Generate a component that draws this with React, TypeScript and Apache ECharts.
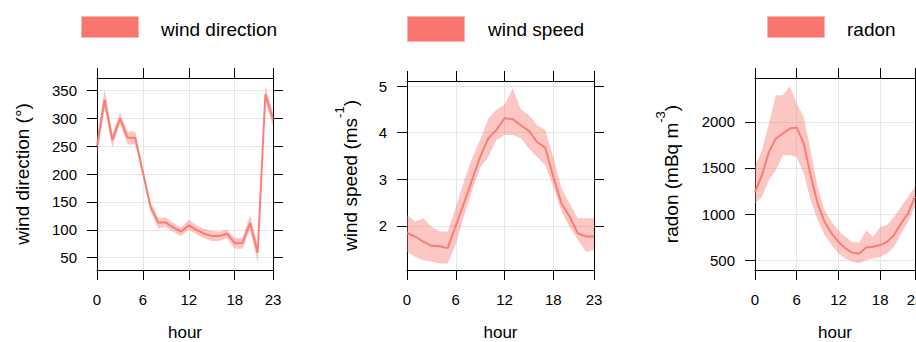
import React, { useEffect, useRef } from "react";
import * as echarts from "echarts";

const hours = ["0","1","2","3","4","5","6","7","8","9","10","11","12","13","14","15","16","17","18","19","20","21","22","23"];
const xTickLabels = ["0", "6", "12", "18", "23"];

const windDirMean = [250, 333, 261, 299, 265, 265, 203, 141, 113, 113, 104, 97, 108, 100, 93, 89, 89, 93, 76, 76, 112, 59, 343, 298];
const windDirLower = [233, 318, 248, 290, 253, 253, 195, 133, 103, 105, 96, 89, 100, 92, 85, 80, 80, 85, 66, 66, 100, 42, 330, 285];
const windDirUpper = [266, 352, 272, 310, 276, 276, 210, 150, 122, 122, 112, 104, 118, 108, 102, 98, 97, 100, 85, 86, 126, 72, 358, 310];
const windDirTicks = [50, 100, 150, 200, 250, 300, 350];

const windSpeedMean = [1.84, 1.77, 1.66, 1.57, 1.56, 1.52, 2.0, 2.48, 2.98, 3.48, 3.88, 4.06, 4.31, 4.29, 4.16, 4.04, 3.8, 3.68, 3.05, 2.48, 2.2, 1.84, 1.77, 1.77];
const windSpeedLower = [1.44, 1.33, 1.26, 1.23, 1.19, 1.19, 1.6, 2.2, 2.75, 3.25, 3.48, 3.84, 3.95, 3.95, 3.88, 3.66, 3.48, 3.3, 2.84, 2.3, 1.98, 1.7, 1.44, 1.48];
const windSpeedUpper = [2.23, 2.09, 2.16, 1.98, 1.88, 1.87, 2.4, 2.95, 3.45, 3.85, 4.3, 4.5, 4.6, 4.95, 4.5, 4.38, 4.16, 4.06, 3.48, 2.8, 2.48, 2.16, 2.16, 2.16];
const windSpeedTicks = [2, 3, 4, 5];

const radonMean = [1241, 1422, 1675, 1820, 1874, 1928, 1939, 1766, 1422, 1115, 915, 789, 698, 627, 579, 572, 637, 644, 663, 698, 771, 898, 1006, 1187];
const radonLower = [1115, 1187, 1368, 1476, 1639, 1639, 1620, 1440, 1151, 934, 771, 663, 572, 518, 482, 464, 500, 518, 536, 572, 644, 789, 915, 1078];
const radonUpper = [1512, 1693, 1983, 2290, 2290, 2387, 2200, 2054, 1693, 1295, 1042, 915, 820, 753, 692, 692, 820, 753, 861, 880, 970, 1078, 1187, 1295];
const radonTicks = [500, 1000, 1500, 2000];

const legendNames = ["wind direction", "wind speed", "radon"];

const FONT = "'Liberation Sans', Arial, Helvetica, sans-serif";
const RED = "#F8766D";
const GRIDLINE = "#e6e6e6";

type Panel = {
  name: string;
  mean: number[];
  lower: number[];
  upper: number[];
  ticks: number[];
  min: number;
  max: number;
  yName: string;
  nameGap: number;
  grid: { left: number; top: number; width: number; height: number };
  legend: { x: number; w: number; h: number; tx: number };
};

const panels: Panel[] = [
  {
    name: legendNames[0], mean: windDirMean, lower: windDirLower, upper: windDirUpper, ticks: windDirTicks,
    min: 28, max: 372, yName: "wind direction (°)", nameGap: 65,
    grid: { left: 97, top: 78, width: 176, height: 192 },
    legend: { x: 81, w: 57, h: 21, tx: 161 },
  },
  {
    name: legendNames[1], mean: windSpeedMean, lower: windSpeedLower, upper: windSpeedUpper, ticks: windSpeedTicks,
    min: 1.05, max: 5.11, yName: "wind speed (ms{s|-1})", nameGap: 39,
    grid: { left: 407, top: 81, width: 187, height: 189 },
    legend: { x: 407, w: 57, h: 25, tx: 488 },
  },
  {
    name: legendNames[2], mean: radonMean, lower: radonLower, upper: radonUpper, ticks: radonTicks,
    min: 392, max: 2477, yName: "radon (mBq m{s|-3})", nameGap: 66,
    grid: { left: 755, top: 78, width: 160, height: 192 },
    legend: { x: 767, w: 57, h: 21, tx: 847 },
  },
];

const isXTick = (i: number) => xTickLabels.indexOf(hours[i]) >= 0;

export default function App() {
  const ref = useRef<HTMLDivElement>(null);
  useEffect(() => {
    if (!ref.current) return;
    const chart = echarts.init(ref.current, undefined, { renderer: "svg" });
    const grids: any[] = [];
    const xAxes: any[] = [];
    const yAxes: any[] = [];
    const series: any[] = [];
    const graphics: any[] = [];
    const txt = { fontFamily: FONT, color: "#000" };

    panels.forEach((p, gi) => {
      grids.push({ ...p.grid, show: false, containLabel: false, outerBoundsMode: "none" });
      const axisLine = { show: true, onZero: false, lineStyle: { color: "#000", width: 1 } };
      xAxes.push({
        type: "category", gridIndex: gi, data: hours, boundaryGap: false, position: "bottom",
        axisLine,
        axisTick: { show: true, length: 10, interval: isXTick, lineStyle: { color: "#000" } },
        axisLabel: { show: true, interval: isXTick, margin: 22, fontSize: 15, ...txt },
        splitLine: { show: true, interval: isXTick, lineStyle: { color: GRIDLINE, width: 1 } },
        name: "hour", nameLocation: "middle", nameGap: 55.5,
        nameTextStyle: { fontSize: 17, lineHeight: 14, ...txt },
      });
      xAxes.push({
        type: "category", gridIndex: gi, data: hours, boundaryGap: false, position: "top",
        axisLine,
        axisTick: { show: true, length: 10, interval: isXTick, lineStyle: { color: "#000" } },
        axisLabel: { show: false },
        splitLine: { show: false },
      });
      yAxes.push({
        type: "value", gridIndex: gi, min: p.min, max: p.max, position: "left",
        axisLine,
        axisTick: { show: true, length: 10, customValues: p.ticks, lineStyle: { color: "#000" } },
        axisLabel: {
          show: true, customValues: p.ticks, margin: 20, fontSize: 15, ...txt,
          formatter: (v: number) => String(v),
        },
        splitLine: { show: true, lineStyle: { color: GRIDLINE, width: 1 } },
        name: p.yName, nameLocation: "middle", nameGap: p.nameGap, nameRotate: 90,
        nameTextStyle: {
          fontSize: 19, ...txt,
          rich: { s: { fontSize: 13, fontFamily: FONT, color: "#000", padding: [0, 0, 22, 0] } },
        },
      });
      yAxes.push({
        type: "value", gridIndex: gi, min: p.min, max: p.max, position: "right",
        axisLine,
        axisTick: { show: true, length: 10, customValues: p.ticks, lineStyle: { color: "#000" } },
        axisLabel: { show: false },
        splitLine: { show: false },
      });
      const stack = "band" + gi;
      series.push({
        type: "line", name: p.name + " lower", xAxisIndex: gi * 2, yAxisIndex: gi * 2,
        data: p.lower, stack, symbol: "none", silent: true,
        lineStyle: { opacity: 0, width: 0 },
      });
      series.push({
        type: "line", name: p.name + " band", xAxisIndex: gi * 2, yAxisIndex: gi * 2,
        data: p.upper.map((u, i) => u - p.lower[i]), stack, symbol: "none", silent: true,
        lineStyle: { opacity: 0, width: 0 },
        areaStyle: { color: RED, opacity: 0.42 },
      });
      series.push({
        type: "line", name: p.name, xAxisIndex: gi * 2, yAxisIndex: gi * 2,
        data: p.mean, symbol: "none", z: 5,
        lineStyle: { color: RED, width: 2, opacity: 0.9 },
      });
      graphics.push({
        type: "rect", left: p.legend.x, top: 16,
        shape: { width: p.legend.w, height: p.legend.h },
        style: { fill: RED, stroke: "#FBB4AE", lineWidth: 1 },
      });
      graphics.push({
        type: "text", x: p.legend.tx, y: 29.5,
        style: { text: p.name, fontSize: 19, fontFamily: FONT, fill: "#000", verticalAlign: "middle" },
      });
    });

    chart.setOption({
      animation: false,
      backgroundColor: "#fff",
      grid: grids,
      xAxis: xAxes,
      yAxis: yAxes,
      series,
      graphic: graphics,
    });
    return () => chart.dispose();
  }, []);
  return (
    <div
      ref={ref}
      style={{ position: "absolute", left: 0, top: 0, width: 916, height: 342 }}
    />
  );
}
